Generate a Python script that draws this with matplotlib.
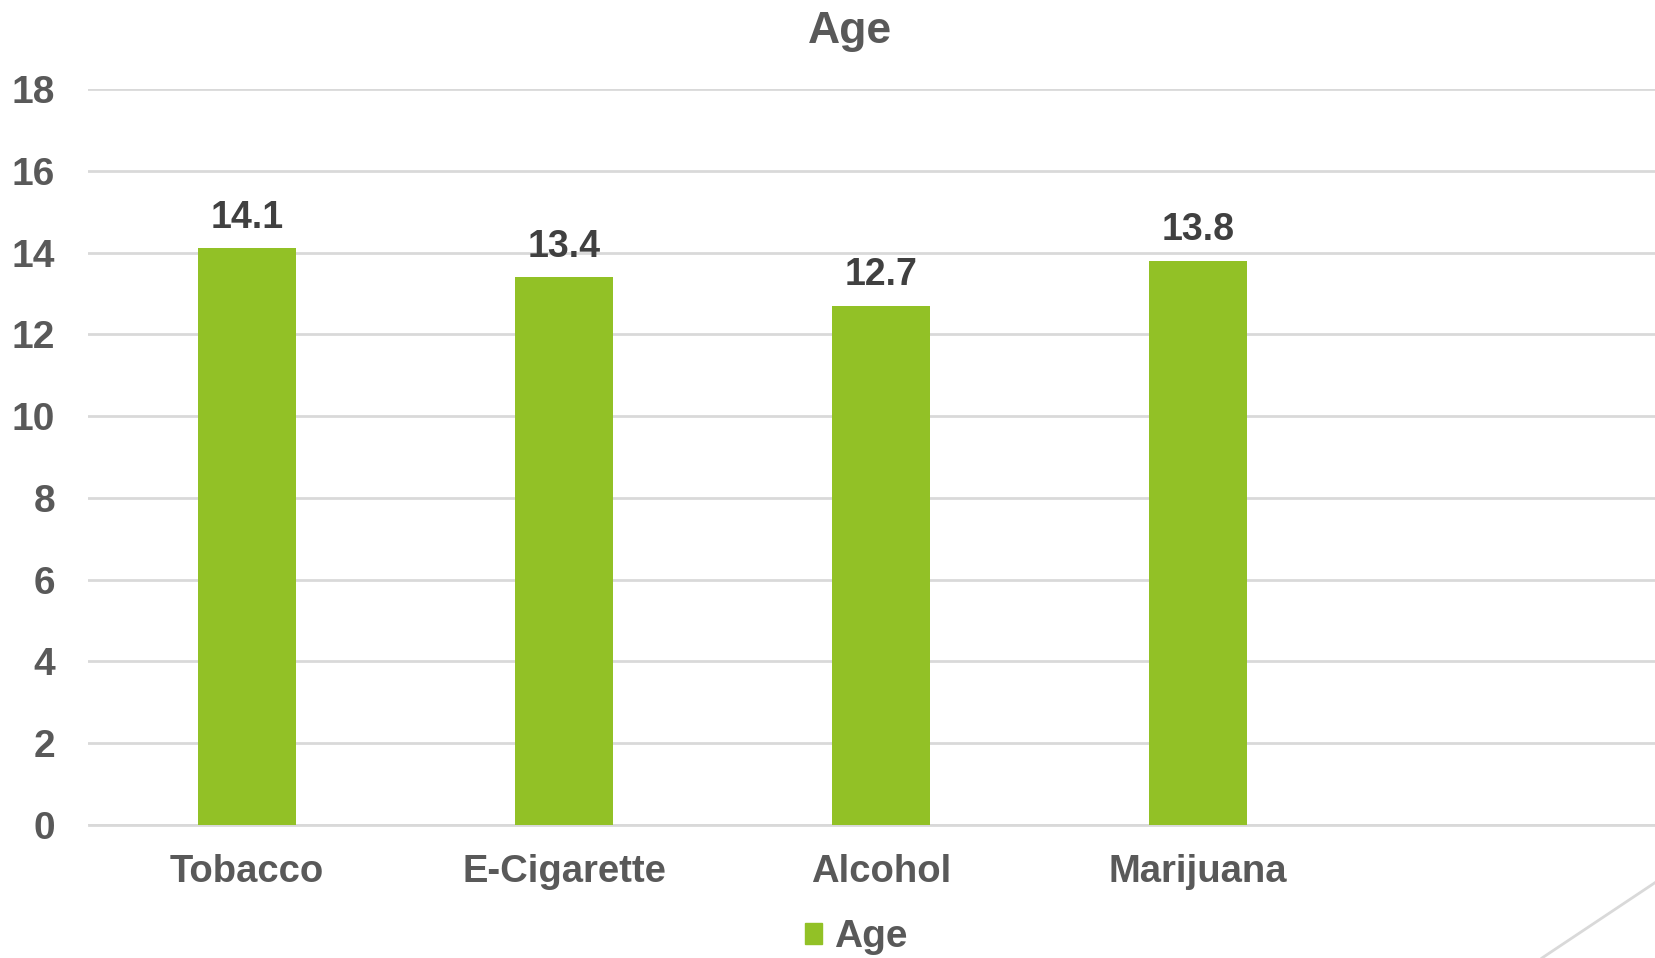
import matplotlib.pyplot as plt
from matplotlib.lines import Line2D
from matplotlib.patches import Patch

categories = ['Tobacco', 'E-Cigarette', 'Alcohol', 'Marijuana']
ages = [14.1, 13.4, 12.7, 13.8]
yticks = [0, 2, 4, 6, 8, 10, 12, 14, 16, 18]

bar_color = '#92C126'
text_color = '#595959'
label_color = '#404040'
grid_color = '#D9D9D9'

plt.rcParams['font.family'] = ['Liberation Sans', 'DejaVu Sans']
plt.rcParams['font.weight'] = 'bold'

W, H = 1656, 958
fig = plt.figure(figsize=(W / 100, H / 100), dpi=100)
# axes run a bit past the right edge, like the original slide
ax = fig.add_axes([88.5 / W, 1 - 825 / H, 1585 / W, (825 - 89) / H])

x = range(len(categories))
bars = ax.bar(x, ages, width=0.31, color=bar_color, zorder=3)

ax.set_xlim(-0.5, 4.5)
ax.set_ylim(0, 18)
ax.set_yticks(yticks)
ax.yaxis.grid(True, color=grid_color, linewidth=2, zorder=0)
ax.set_axisbelow(True)
for s in ['top', 'right', 'left']:
    ax.spines[s].set_visible(False)
ax.spines['bottom'].set_color(grid_color)
ax.spines['bottom'].set_linewidth(2)
ax.tick_params(axis='both', length=0, colors=text_color)
ax.tick_params(axis='y', pad=24, labelsize=28)
ax.tick_params(axis='x', pad=21)
ax.set_xticks(list(x))
ax.set_xticklabels(categories, fontsize=27.5, fontweight='bold', color=text_color)
for lab in ax.get_yticklabels():
    lab.set_fontweight('bold')

for b, v in zip(bars, ages):
    ax.annotate(f'{v}', (b.get_x() + b.get_width() / 2, v), xytext=(0, 9),
                textcoords='offset points', ha='center', va='bottom',
                fontsize=27, fontweight='bold', color=label_color)

fig.text(850 / W, 1 - 31 / H, 'Age', ha='center', va='center',
         fontsize=32, fontweight='bold', color=text_color)

fig.legend(handles=[Patch(color=bar_color, label='Age')], loc='center',
           bbox_to_anchor=(856 / W, 1 - 937 / H), frameon=False,
           fontsize=28, handlelength=0.45, handleheight=0.45, handletextpad=0.3,
           labelcolor=text_color)

fig.add_artist(Line2D([1542 / W, 1.0], [0, 76 / H], color=grid_color,
                      linewidth=2, transform=fig.transFigure))

fig.savefig('out.png', dpi=100)
